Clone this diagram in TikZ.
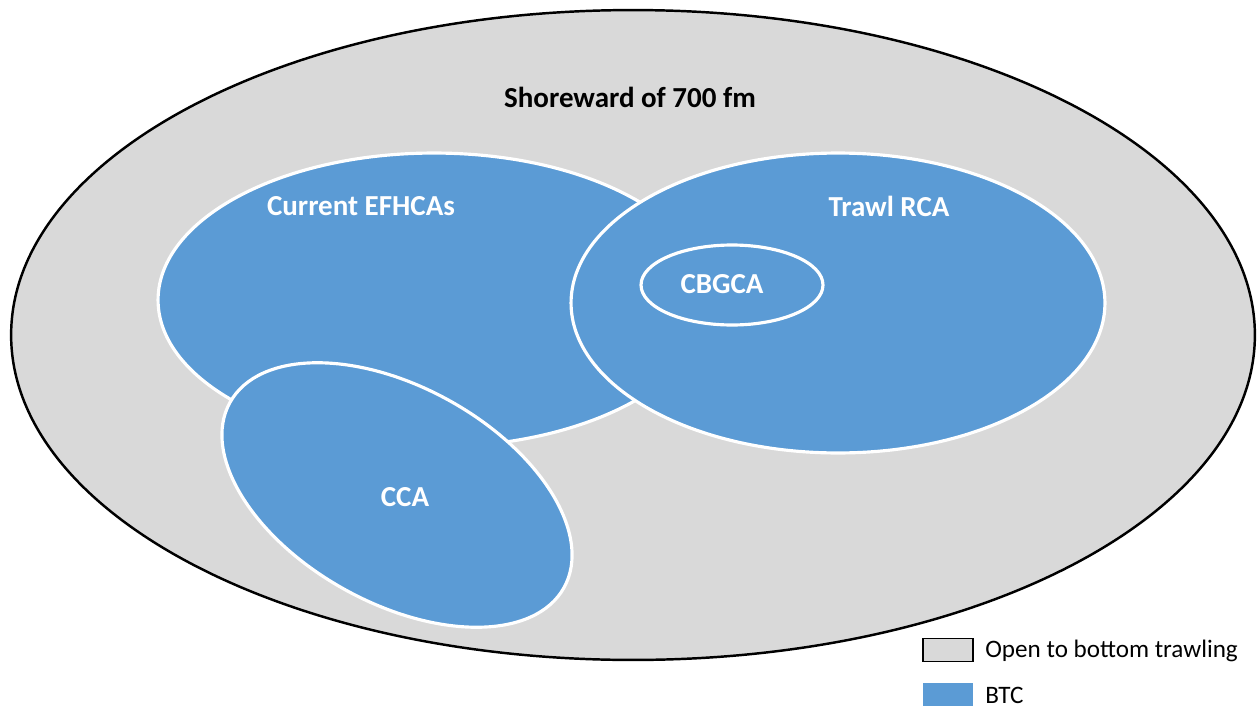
\documentclass[tikz,border=0pt]{standalone}
\usepackage{fontspec}
\setmainfont{Carlito}
\usetikzlibrary{shapes.geometric}
\definecolor{btcblue}{HTML}{5B9BD5}
\definecolor{opengray}{HTML}{D9D9D9}
\begin{document}
\begin{tikzpicture}[x=0.02cm,y=-0.02cm,
  zone/.style={ellipse,inner sep=0pt,outer sep=0pt},
  outerzone/.style={zone,fill=opengray,draw=black,line width=1.4pt},
  closure/.style={zone,fill=btcblue,draw=white,line width=1.8pt},
  title/.style={font=\bfseries\fontsize{16.5}{19}\selectfont,inner sep=0pt},
  legtext/.style={font=\fontsize{14.3}{17}\selectfont,anchor=west,inner sep=0pt},
  legbox/.style={rectangle,minimum width=1cm,minimum height=0.46cm,inner sep=0pt}]
  \fill[white] (0,0) rectangle (1257,710);
  \useasboundingbox (0,0) rectangle (1257,710);

  % depth limit
  \node[outerzone,minimum width=24.88cm,minimum height=13cm] (shore) at (633,335) {};
  \node[title] (shorelbl) at (630,97) {Shoreward of 700 fm};

  % closed areas
  \node[closure,minimum width=11.04cm,minimum height=5.88cm] (efh) at (434,300) {};
  \node[closure,minimum width=7.64cm,minimum height=4.32cm,rotate=-29] (cca) at (397,495) {};
  \node[closure,minimum width=10.68cm,minimum height=6cm] (rca) at (838,303) {};
  \node[closure,minimum width=3.64cm,minimum height=1.6cm] (cbg) at (732,285) {};

  \node[title,text=white] (efhlbl) at (361,206) {Current EFHCAs};
  \node[title,text=white] (rcalbl) at (889,206) {Trawl RCA};
  \node[title,text=white] (cbglbl) at (722,284) {CBGCA};
  \node[title,text=white] (ccalbl) at (405,497) {CCA};

  % legend
  \node[legbox,fill=opengray,draw=black,line width=1.1pt] (keyopen) at (948,650) {};
  \node[legtext] (keyopenlbl) at (985,651) {Open to bottom trawling};
  \node[legbox,fill=btcblue] (keybtc) at (948,694) {};
  \node[legtext] (keybtclbl) at (985,695) {BTC};
\end{tikzpicture}
\end{document}
